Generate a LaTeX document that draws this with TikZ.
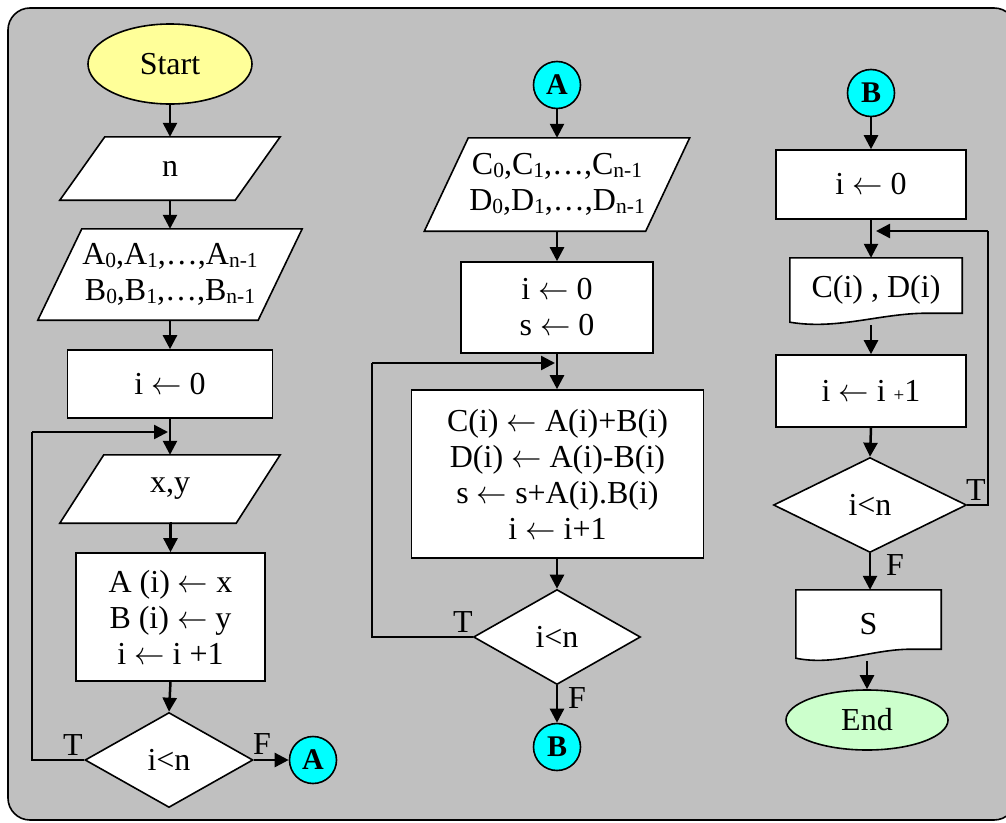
\RequirePackage{fix-cm}
\documentclass[tikz,border=0pt]{standalone}
\usepackage{fontspec}
\setmainfont{Liberation Serif}
\usetikzlibrary{shapes.geometric,arrows.meta,calc,backgrounds}
\definecolor{bggray}{HTML}{C0C0C0}
\definecolor{startyel}{HTML}{FFFF99}
\definecolor{endgreen}{HTML}{CCFFCC}
\definecolor{conncyan}{HTML}{00FFFF}
\newcommand\sbx[1]{\raisebox{-2.5pt}{\fontsize{21.5}{21.5}\selectfont #1}}
\newcommand\smallplus{{\fontsize{19}{19}\selectfont +}}
\newcommand\la{\scalebox{0.95}[1]{$\leftarrow$}}
\newcommand\paragon[2]{\draw[shp] ($(#1.north west)+(#2,0)$) -- ($(#1.north east)+(#2,0)$) -- ($(#1.south east)+(-#2,0)$) -- ($(#1.south west)+(-#2,0)$) -- cycle;}
\begin{document}
\begin{tikzpicture}[x=1pt,y=-1pt,
  font=\fontsize{32}{36}\selectfont,
  shp/.style={draw, fill=white, line width=1.6pt, line join=miter},
  box/.style={rectangle, draw, fill=white, line width=1.6pt, inner sep=0pt, align=center},
  inv/.style={rectangle, inner sep=0pt, align=center},
  dec/.style={diamond, draw, fill=white, line width=1.6pt, inner sep=0pt},
  conn/.style={circle, draw, fill=conncyan, line width=1.6pt, minimum size=47pt, inner sep=0pt, font=\fontsize{30}{30}\selectfont\bfseries},
  term/.style={ellipse, draw, line width=1.6pt, inner sep=0pt},
  arr/.style={line width=2.5pt, -{Triangle[length=14pt,width=14pt]}},
  ln/.style={line width=2.5pt},
  lbl/.style={inner sep=0pt}
]
\useasboundingbox (0,0) rectangle (1006,822);
\begin{scope}[on background layer]
  \clip (0,0) rectangle (1006,822);
  \draw[fill=bggray, line width=1.6pt, rounded corners=22pt] (8,8) rectangle (1016,820);
\end{scope}

% ---------- left column ----------
\node[term, fill=startyel, minimum width=164pt, minimum height=80pt] (start) at (170,64) {Start};
\node[inv, minimum width=175pt, minimum height=63pt] (n) at (170,168.5) {n};
\node[inv, minimum width=220pt, minimum height=91pt] (ab) at (170,274.5)
  {A\sbx{0},A\sbx{1},…,A\sbx{n-1}\\B\sbx{0},B\sbx{1},…,B\sbx{n-1}};
\node[box, minimum width=205pt, minimum height=68pt] (i0) at (170,384) {i \la{} 0};
\node[inv, minimum width=176pt, minimum height=68pt] (xy) at (170,489) {x,y};
\node[box, minimum width=189pt, minimum height=128pt] (abi) at (170.5,617)
  {A (i) \la{} x\\B (i) \la{} y\\i \la{} i +1};
\node[dec, minimum width=168pt, minimum height=95pt] (d1) at (169,760) {i<n};
\node[conn] (ca1) at (313,760) {A};
\node[lbl] (t1) at (73,745) {T};
\node[lbl] (f1) at (262,744) {F};
\coordinate (l1) at (32,432);
\coordinate (j1) at (168,432);

% ---------- middle column ----------
\node[conn] (ca2) at (557,85) {A};
\node[inv, minimum width=221pt, minimum height=93pt] (cd) at (557,184.5)
  {C\sbx{0},C\sbx{1},…,C\sbx{n-1}\\D\sbx{0},D\sbx{1},…,D\sbx{n-1}};
\node[box, minimum width=192pt, minimum height=91pt] (is) at (557,307.5) {i \la{} 0\\s \la{} 0};
\node[box, minimum width=292pt, minimum height=168pt] (calc) at (557.5,474)
  {C(i) \la{} A(i)+B(i)\\D(i) \la{} A(i)-B(i)\\s \la{} s+A(i).B(i)\\i \la{} i+1};
\node[dec, minimum width=167pt, minimum height=95pt] (d2) at (557,637) {i<n};
\node[conn] (cb1) at (557,747) {B};
\node[lbl] (t2) at (463,622) {T};
\node[lbl] (f2) at (577,698) {F};
\coordinate (l2) at (372,363);
\coordinate (j2) at (555,363);

% ---------- right column ----------
\node[conn] (cb2) at (871,93) {B};
\node[box, minimum width=190pt, minimum height=69pt] (r0) at (871,184.5) {i \la{} 0};
\node[inv, minimum width=172pt, minimum height=64pt] (doc1) at (876,290) {C(i) , D(i)};
\node[box, minimum width=190pt, minimum height=72pt] (r1) at (871,391) {i \la{} i \smallplus1};
\node[dec, minimum width=193pt, minimum height=95pt] (d3) at (870,505) {i<n};
\node[inv, minimum width=145pt, minimum height=68pt] (doc2) at (868.5,624) {S};
\node[term, fill=endgreen, minimum width=162pt, minimum height=60pt] (end) at (867,720) {End};
\node[lbl] (t3) at (976,490) {T};
\node[lbl] (f3) at (895,565) {F};
\coordinate (l3) at (988,231);
\coordinate (j3) at (876,231);

% ---------- shapes behind text ----------
\begin{scope}[on background layer]
  \paragon{n}{22.5}
  \paragon{ab}{22}
  \paragon{xy}{22}
  \paragon{cd}{22}
  \draw[shp] (doc1.north west) -- (doc1.north east) -- ($(doc1.south east)+(0,-9)$)
     -- ($(doc1.south east)+(-35,-9)$)
     .. controls ($(doc1.south east)+(-82,-9)$) and ($(doc1.south west)+(48,8)$) .. (doc1.south west) -- cycle;
  \draw[shp] (doc2.north west) -- (doc2.north east) -- ($(doc2.south east)+(0,-9)$)
     -- ($(doc2.south east)+(-30,-9)$)
     .. controls ($(doc2.south east)+(-70,-9)$) and ($(doc2.south west)+(40,8)$) .. (doc2.south west) -- cycle;
\end{scope}

% ---------- connectors left ----------
\draw[arr] (start.south) -- (n.north);
\draw[arr] (n.south) -- (ab.north);
\draw[arr] (ab.south) -- (i0.north);
\draw[arr] (i0.south) -- (xy.north);
\draw[arr] (xy.south) -- (abi.south |- xy.south) -- (abi.north);
\draw[arr] (abi.south) -- (d1.north);
\draw[arr] (d1.east) -- (ca1.west);
\draw[ln] (d1.west) -| (l1);
\draw[arr] (l1) -- (j1);

% ---------- connectors middle ----------
\draw[arr] (ca2.south) -- (cd.north);
\draw[arr] (cd.south) -- (is.north);
\draw[arr] (is.south) -- (is.south |- calc.north);
\draw[arr] (d2.north |- calc.south) -- (d2.north);
\draw[arr] (d2.south) -- (cb1.north);
\draw[ln] (d2.west) -| (l2);
\draw[arr] (l2) -- (j2);

% ---------- connectors right ----------
\draw[arr] (cb2.south) -- (r0.north);
\draw[arr] (r0.south) -- (r0.south |- doc1.north);
\draw[arr] ($(r1.north |- doc1.south)+(0,3)$) -- (r1.north);
\draw[arr] (r1.south) -- (d3.north);
\draw[arr] (d3.south) -- (d3.south |- doc2.north);
\draw[arr] ($(end.north |- doc2.south)+(0,3)$) -- (end.north);
\draw[ln] (d3.east) -| (l3);
\draw[arr] (l3) -- (j3);
\end{tikzpicture}
\end{document}
